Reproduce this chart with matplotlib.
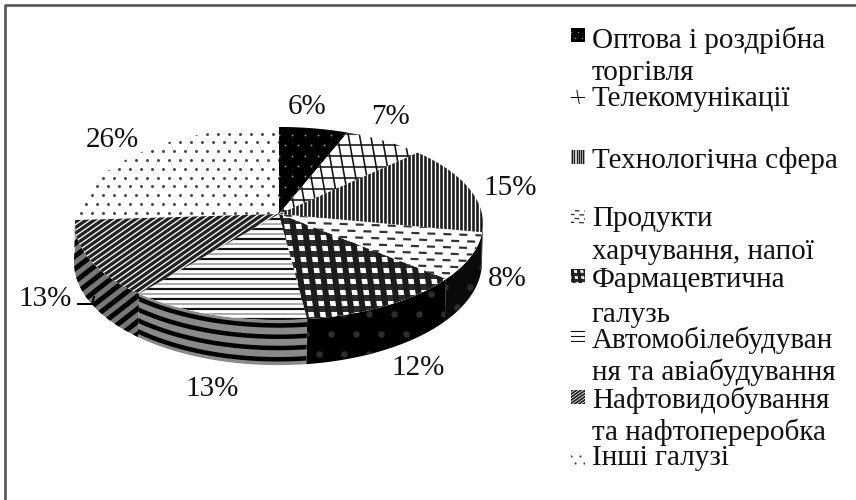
import numpy as np
import matplotlib
matplotlib.use("Agg")
import matplotlib.pyplot as plt
from matplotlib.patches import Polygon

plt.rcParams['font.family'] = ['Liberation Serif', 'DejaVu Serif']

# Shares of each industry, clockwise from 12 o'clock
shares = [6, 7, 15, 8, 12, 13, 13, 26]
shareLabels = ["6%", "7%", "15%", "8%", "12%", "13%", "13%", "26%"]
patterns = ["blackdots", "grid", "vertical", "dashes", "darkgrid", "horizontal", "diagonal", "dots"]
legendLines = [
    ["Оптова і роздрібна", "торгівля"],
    ["Телекомунікації"],
    ["Технологічна сфера"],
    ["Продукти", "харчування, напої"],
    ["Фармацевтична", "галузь"],
    ["Автомобілебудуван", "ня та авіабудування"],
    ["Нафтовидобування", "та нафтопереробка"],
    ["Інші галузі"],
]

fig = plt.figure(figsize=(8.56, 5), dpi=100)
ax = fig.add_axes([0, 0, 1, 1])
ax.set_xlim(0, 856)
ax.set_ylim(500, 0)
ax.axis("off")

PX = 0.72  # points per pixel at this dpi


# The pie is a flat disc seen in perspective, near side bigger
def top(theta):
    u, v = np.sin(theta), np.cos(theta)
    s = 1 / (1 + 0.0984 * v)
    return 279 + 203 * u * s, 214 - 95.6 * v * s


def bottom(theta):
    u, v = np.sin(theta), np.cos(theta)
    s = 1 / (1 + 0.0984 * v)
    return 278 + 203 * u * s, 252 - 102 * v * s


def stripes(clip, angle, pitch, lw, color, z, dashes=None, stagger=False, shift=0):
    box = clip.get_path().get_extents()
    cx, cy = (box.x0 + box.x1) / 2, (box.y0 + box.y1) / 2
    reach = max(box.width, box.height) + pitch
    a = np.radians(angle)
    d = np.array([np.cos(a), np.sin(a)])
    n = np.array([-d[1], d[0]])
    for i, off in enumerate(np.arange(-reach, reach, pitch)):
        p0 = np.array([cx, cy]) + n * (off + shift) - d * reach
        p1 = np.array([cx, cy]) + n * (off + shift) + d * reach
        if stagger and i % 2:
            p0 = p0 + d * (dashes[0] + dashes[1]) / 2
        line, = ax.plot([p0[0], p1[0]], [p0[1], p1[1]], color=color, lw=lw * PX,
                        solid_capstyle="butt", dash_capstyle="butt", zorder=z)
        if dashes is not None:
            line.set_dashes([dashes[0] / lw, dashes[1] / lw])
        line.set_clip_path(clip)


def dots(clip, pitch, size, color, z):
    box = clip.get_path().get_extents()
    xs, ys = [], []
    for i, y in enumerate(np.arange(box.y0 - pitch, box.y1 + pitch, pitch * 0.8)):
        for x in np.arange(box.x0 - pitch, box.x1 + pitch, pitch):
            xs.append(x + (pitch / 2 if i % 2 else 0))
            ys.append(y)
    pts = ax.scatter(xs, ys, s=size, color=color, linewidths=0, zorder=z)
    pts.set_clip_path(clip)


def fillPattern(name, clip, z, k=1.0):
    thin = min(k, 1.0)
    if name == "blackdots":
        dots(clip, 13 * k, 2 * k, "#888888", z)
    elif name == "grid":
        stripes(clip, 0, 11 * k, 1.6 if k == 1 else 1, "#111111", z)
        stripes(clip, 80, 11 * k, 1.6 if k == 1 else 1, "#111111", z)
    elif name == "vertical":
        stripes(clip, 90, 4 * k, 2.6 * k, "#1a1a1a", z)
    elif name == "dashes":
        stripes(clip, 2, 6.5 * k, 2.2 * k, "#333333", z, (8 * k, 8 * k), True)
    elif name == "darkgrid":
        stripes(clip, 0, 11 * k, 6 * k, "#2c2c2c", z)
        stripes(clip, 82, 11.5 * k, 6 * k, "#1c1c1c", z)
    elif name == "horizontal":
        stripes(clip, 0, 10 * k, 2.2 * thin, "#111111", z)
        if k == 1:
            stripes(clip, 0, 10, 1.6, "#999999", z, shift=5)
    elif name == "diagonal":
        stripes(clip, -35, 4.6 * k, 3.3 * k, "#222222", z)
    elif name == "dots":
        dots(clip, 11 * k, 3 * k if k < 1 else 4.5, "#444444", z)


# Walls first: only the near part of the rim is visible
edges = 2 * np.pi * np.cumsum([0] + shares) / sum(shares)
wallFace = ["#000000", "#000000", "#000000", "#0a0a0a", "#000000", "#8a8a8a", "#777777", "#ffffff"]
for i in range(len(shares)):
    lo, hi = max(edges[i], np.radians(98)), min(edges[i + 1], np.radians(270))
    if lo >= hi:
        continue
    t = np.linspace(lo, hi, 60)
    xt, yt = top(t)
    xb, yb = bottom(t)
    wall = Polygon(np.r_[np.c_[xt, yt], np.c_[xb, yb][::-1]], closed=True,
                   facecolor=wallFace[i], edgecolor="none", zorder=1)
    ax.add_patch(wall)
    if patterns[i] == "horizontal":
        for f in [0.12, 0.37, 0.62, 0.87]:
            line, = ax.plot(xt + (xb - xt) * f, yt + (yb - yt) * f, color="black", lw=4.5 * PX, zorder=2)
            line.set_clip_path(wall)
    elif patterns[i] == "diagonal":
        stripes(wall, -38, 10, 5, "#000000", 2)
    elif patterns[i] in ("darkgrid", "dashes"):
        dots(wall, 25, 22, "#2e2e2e", 2)

# Top surface slices
for i, name in enumerate(patterns):
    t = np.linspace(edges[i], edges[i + 1], 80)
    xs, ys = top(t)
    face = "black" if name == "blackdots" else "white"
    wedge = Polygon(np.r_[[[279, 214]], np.c_[xs, ys]], closed=True, facecolor=face, edgecolor="none", zorder=3)
    ax.add_patch(wedge)
    fillPattern(name, wedge, 4)

# Percent labels
labelX = [307, 391, 510, 507, 418, 212, 45, 112]
labelY = [107, 117, 188, 279, 368, 389, 299, 140]
for x, y, text in zip(labelX, labelY, shareLabels):
    ax.text(x, y, text, fontsize=21, ha="center", va="center", color="#111111", zorder=6)
ax.plot([78, 92, 94], [304, 304, 297], color="black", lw=2 * PX, zorder=6)

# Legend, laid out by hand like the original
lineY = [[40, 73], [99], [160], [219, 252], [280, 315], [340, 372], [400, 432], [458]]
swatchY = [35, 97, 157, 217, 276, 335, 397, 458]
swatchScale = [0.55, 1.27, 0.55, 0.6, 0.55, 0.5, 0.55, 0.8]
for i in range(len(legendLines)):
    for y, text in zip(lineY[i], legendLines[i]):
        ax.text(592, y, text, fontsize=21, ha="left", va="center", color="#111111", zorder=6)
    face = "black" if patterns[i] == "blackdots" else "white"
    sy = swatchY[i]
    swatch = Polygon([[571, sy - 7], [585, sy - 7], [585, sy + 7], [571, sy + 7]], closed=True,
                     facecolor=face, edgecolor="none", zorder=5)
    ax.add_patch(swatch)
    fillPattern(patterns[i], swatch, 6, swatchScale[i])

# Frame: the crop leaves only the left and top edges
ax.plot([5, 5, 856], [500, 4.5, 4.5], color="#555555", lw=2.6 * PX, zorder=7)

fig.savefig("out.png", dpi=100)
